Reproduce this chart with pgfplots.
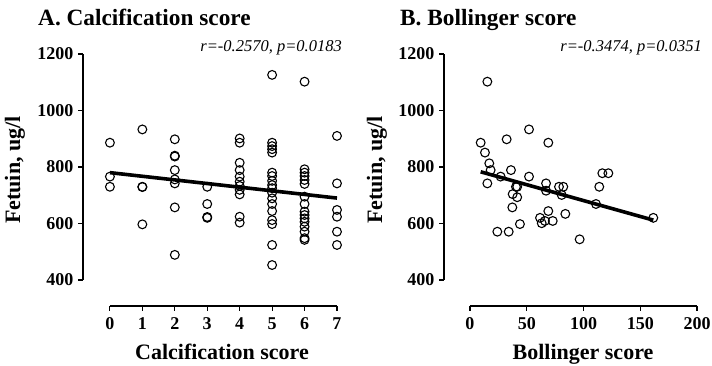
\documentclass[border=0pt]{standalone}
\usepackage{pgfplots}
\pgfplotsset{compat=1.18}
\usepackage{fontspec}
\setmainfont{Liberation Serif}

\pgfplotstableread{
x y
0 886
0 766
0 730
1 933
1 730
1 729
1 597
2 898
2 840
2 837
2 789
2 756
2 742
2 657
2 489
3 730
3 669
3 623
3 620
4 901
4 886
4 815
4 789
4 766
4 748
4 733
4 719
4 703
4 624
4 603
5 1126
5 886
5 874
5 863
5 851
5 780
5 768
5 751
5 736
5 725
5 709
5 689
5 669
5 644
5 612
5 598
5 524
5 453
6 1102
6 792
6 780
6 768
6 754
6 740
6 695
6 669
6 642
6 630
6 618
6 606
6 589
6 571
6 548
6 542
7 910
7 742
7 648
7 624
7 571
7 524
}\calc

\pgfplotstableread{
x y
15.3 1102
52.0 933
32.3 898
69.0 886
9.4 886
13.2 851
17.0 813
18.2 789
36.1 789
27.0 766
52.0 766
15.3 742
116.6 778
121.9 778
40.5 730
41.6 730
67.0 742
78.4 730
82.2 730
113.9 730
67.0 716
37.6 704
41.6 693
80.8 701
111.0 669
37.3 657
69.0 644
84.0 634
61.7 620
161.5 620
66.0 609
63.2 601
72.9 609
44.0 598
24.1 571
34.1 571
96.6 544
}\boll

\pgfplotsset{
  prism/.style={
    scale only axis,
    height=252pt,
    ymin=308, ymax=1200,
    ytick={400,600,800,1000,1200},
    xtick pos=bottom, ytick pos=left,
    tick align=outside,
    major tick length=5pt,
    every tick/.style={black, line width=1.1pt},
    x axis line style={draw=none},
    y axis line style={draw=none},
    tick label style={font=\bfseries\fontsize{18}{18}\selectfont},
    /pgf/number format/assume math mode=true,
    /pgf/number format/set thousands separator={},
    xticklabel style={yshift=-3pt},
    yticklabel style={xshift=-1pt},
    clip=false,
  },
  dots/.style={only marks, mark=o, mark size=4.4pt, mark options={line width=1.1pt, black}},
  reg/.style={black, line width=3.6pt, no marks},
}

\begin{document}
\begin{tikzpicture}
\useasboundingbox (0,0) rectangle (712pt,366pt);

\begin{axis}[prism, at={(83pt,60pt)}, anchor=south west, width=254pt,
  xmin=-0.83, xmax=7, xtick={0,1,2,3,4,5,6,7}]
  \addplot[dots] table {\calc};
  \addplot[reg] coordinates {(0,780) (7,690)};
  \draw[line width=1.3pt] (axis cs:0,308) -- (axis cs:7,308);
  \draw[line width=1.3pt] (axis cs:-0.83,400) -- (axis cs:-0.83,1200);
\end{axis}

\begin{axis}[prism, at={(444pt,60pt)}, anchor=south west, width=253pt,
  xmin=-22.9, xmax=200, xtick={0,50,100,150,200}]
  \addplot[dots] table {\boll};
  \addplot[reg] coordinates {(9.4,783) (161.5,612)};
  \draw[line width=1.3pt] (axis cs:0,308) -- (axis cs:200,308);
  \draw[line width=1.3pt] (axis cs:-22.9,400) -- (axis cs:-22.9,1200);
\end{axis}

% titles
\node[anchor=base west, inner sep=0pt, font=\bfseries\fontsize{23.3}{23.3}\selectfont] at (38pt,340pt) {A. Calcification score};
\node[anchor=base west, inner sep=0pt, font=\bfseries\fontsize{23.3}{23.3}\selectfont] at (400pt,340pt) {B. Bollinger score};
% annotations
\node[anchor=base east, inner sep=0pt, font=\itshape\fontsize{16.5}{16.5}\selectfont] at (342pt,314pt) {r=-0.2570, p=0.0183};
\node[anchor=base east, inner sep=0pt, font=\itshape\fontsize{16.5}{16.5}\selectfont] at (702pt,314pt) {r=-0.3474, p=0.0351};
% y labels
\node[rotate=90, inner sep=0pt, font=\bfseries\fontsize{22}{22}\selectfont] at (15pt,196pt) {Fetuin, ug/l};
\node[rotate=90, inner sep=0pt, font=\bfseries\fontsize{22}{22}\selectfont] at (377pt,196pt) {Fetuin, ug/l};
% x labels
\node[anchor=base, inner sep=0pt, font=\bfseries\fontsize{22}{22}\selectfont] at (222pt,6pt) {Calcification score};
\node[anchor=base, inner sep=0pt, font=\bfseries\fontsize{22}{22}\selectfont] at (583pt,6pt) {Bollinger score};
\end{tikzpicture}
\end{document}
